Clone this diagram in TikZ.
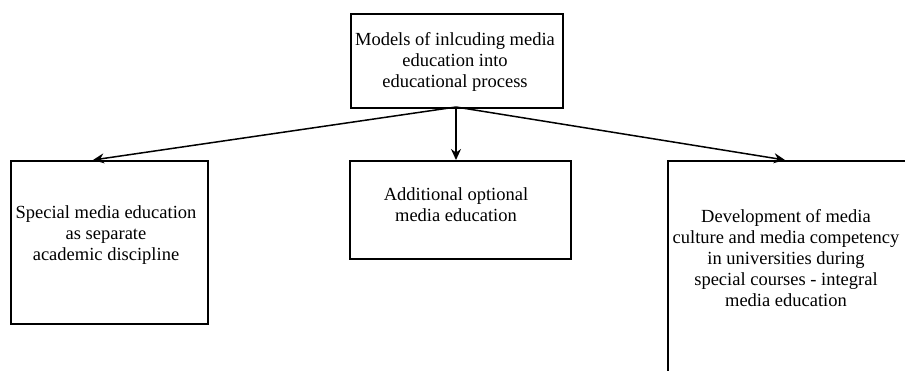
\documentclass[tikz,border=0pt]{standalone}
\usepackage{fontspec}
\setmainfont{Liberation Serif}
\usetikzlibrary{arrows.meta}
\begin{document}
\begin{tikzpicture}[x=1pt,y=-1pt,
  box/.style={draw,line width=1.7pt,inner sep=0pt,anchor=north west},
  txt/.style={align=center,font=\fontsize{18.5}{20.8}\selectfont,inner sep=0pt},
  arr/.style={-{Stealth[length=11pt,width=10pt]},line width=1.5pt}]
\useasboundingbox (0,0) rectangle (905,370);
\clip (0,0) rectangle (905,370);
\node[box,minimum width=212pt,minimum height=94pt] (top) at (350,13) {};
\node[box,minimum width=197pt,minimum height=163pt] (left) at (10,160) {};
\node[box,minimum width=221pt,minimum height=98pt] (mid) at (349,160) {};
\node[box,minimum width=260pt,minimum height=240pt] (right) at (667,160) {};
\node[txt] (toptxt) at (455,62) {Models of inlcuding media\\education into\\educational process};
\node[txt] (lefttxt) at (106,235) {Special media education\\as separate\\academic discipline};
\node[txt] (midtxt) at (456,205) {Additional optional\\media education};
\node[txt] (righttxt) at (786,258) {Development of media\\culture and media competency\\in universities during\\special courses - integral\\media education};
\coordinate (src) at (456,107);
\coordinate (lt) at (93,160);
\coordinate (rt) at (785,160);
\draw[arr] (src) -- (lt);
\draw[arr] (src) -- (mid.north -| src);
\draw[arr] (src) -- (rt);
\end{tikzpicture}
\end{document}
